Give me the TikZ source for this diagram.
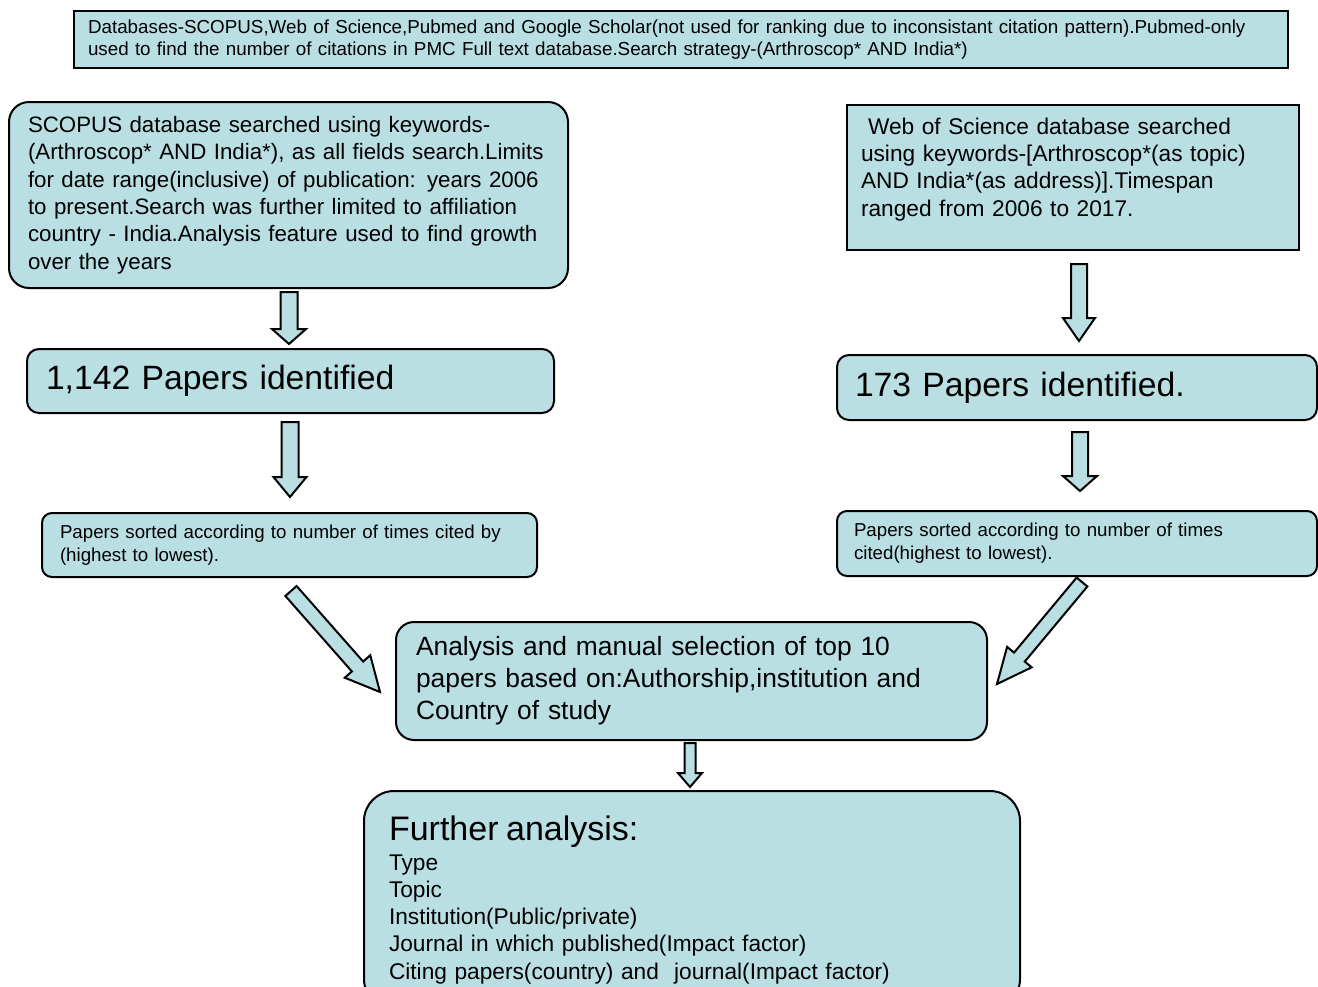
\documentclass[tikz,border=0pt]{standalone}
\usepackage{fontspec}
\setmainfont{Liberation Sans}
\usetikzlibrary{calc}
\definecolor{boxfill}{RGB}{186,223,227}
\newcommand\blockarrow[5]{% start, end, shaft half width, head half width, head length
  \coordinate (hb) at ($(#2)!#5!(#1)$);
  \draw[arr] ($(#1)!#3!90:(#2)$) -- ($(hb)!#3!-90:(#1)$) -- ($(hb)!#4!-90:(#1)$) -- (#2)
    -- ($(hb)!#4!90:(#1)$) -- ($(hb)!#3!90:(#1)$) -- ($(#1)!#3!-90:(#2)$) -- cycle;}
\begin{document}
\begin{tikzpicture}[x=1pt,y=-1pt,
  box/.style={draw=black, line width=2pt, fill=boxfill, anchor=north west,
    inner ysep=0pt, align=left},
  arr/.style={draw=black, line width=2pt, fill=boxfill, line join=miter}]
\clip (0,0) rectangle (1318,986);
\fill[white] (0,0) rectangle (1318,986);

\node[box, minimum height=57pt, text width=1186pt, inner xsep=14pt,
  font=\fontsize{18.8}{22}\selectfont] (db) at (73,10)
  {Databases-SCOPUS,Web of Science,Pubmed and Google Scholar(not used for ranking due to inconsistant citation pattern).Pubmed-only\\
   used to find the number of citations in PMC Full text database.Search strategy-(Arthroscop* AND India*)};

\node[box, rounded corners=20pt, minimum height=186pt, text width=521pt, inner xsep=19pt,
  font=\fontsize{22.3}{27.3}\selectfont] (scopus) at (8,101)
  {SCOPUS database searched using keywords-\\
   (Arthroscop* AND India*), as all fields search.Limits\\
   for date range(inclusive) of publication: years 2006\\
   to present.Search was further limited to affiliation\\
   country - India.Analysis feature used to find growth\\
   over the years};

\node[box, minimum height=145pt, text width=424pt, inner xsep=14pt,
  font=\fontsize{22.7}{27.3}\selectfont] (wos) at (846,104)
  {\hspace*{7pt}Web of Science database searched\\
   using keywords-[Arthroscop*(as topic)\\
   AND India*(as address)].Timespan\\
   ranged from 2006 to 2017.\\[-6pt]\mbox{}};

\node[box, rounded corners=12pt, minimum height=64pt, text width=489pt, inner xsep=19pt,
  font=\fontsize{33.7}{40}\selectfont] (p1142) at (26,348) {1,142 Papers identified};

\node[box, rounded corners=12pt, minimum height=65pt, text width=444pt, inner xsep=18pt,
  font=\fontsize{33.7}{40}\selectfont] (p173) at (836,354) {173 Papers identified.};

\node[box, rounded corners=10pt, minimum height=64pt, text width=459pt, inner xsep=18pt,
  font=\fontsize{18.7}{23}\selectfont] (sortl) at (41,512)
  {Papers sorted according to number of times cited by\\ (highest to lowest).};

\node[box, rounded corners=10pt, minimum height=65pt, text width=446pt, inner xsep=17pt,
  font=\fontsize{18.7}{23}\selectfont] (sortr) at (836,510)
  {Papers sorted according to number of times\\ cited(highest to lowest).};

\node[box, rounded corners=18pt, minimum height=118pt, text width=551pt, inner xsep=20pt,
  font=\fontsize{26.4}{32}\selectfont] (sel) at (395,621)
  {Analysis and manual selection of top 10\\
   papers based on:Authorship,institution and\\
   Country of study};

\node[box, rounded corners=30pt, minimum height=218pt, text width=606pt, inner xsep=25pt,
  font=\fontsize{22.7}{27.3}\selectfont] (further) at (363,790)
  {{\fontsize{34}{34}\selectfont Further analysis:}\\[2pt]
   Type\\
   Topic\\
   Institution(Public/private)\\
   Journal in which published(Impact factor)\\
   Citing papers(country) and\ \ journal(Impact factor)};

% arrow end points
\coordinate (a1s) at (289,292);  \coordinate (a1e) at (289,344);
\coordinate (a2s) at (290,422);  \coordinate (a2e) at (290,497);
\coordinate (b1s) at (1079,264); \coordinate (b1e) at (1079,341);
\coordinate (b2s) at (1080,432); \coordinate (b2e) at (1080,491);
\coordinate (dls) at (291,591);  \coordinate (dle) at (380,692);
\coordinate (drs) at (1082,582); \coordinate (dre) at (997,684);
\coordinate (cs)  at (690,743);  \coordinate (ce)  at (690,787);

\blockarrow{a1s}{a1e}{8.5pt}{17pt}{15pt}
\blockarrow{a2s}{a2e}{8.5pt}{16.5pt}{20pt}
\blockarrow{b1s}{b1e}{8pt}{16pt}{23pt}
\blockarrow{b2s}{b2e}{8pt}{17pt}{15pt}
\blockarrow{dls}{dle}{7.5pt}{17pt}{34pt}
\blockarrow{drs}{dre}{7pt}{16pt}{35pt}
\blockarrow{cs}{ce}{5.5pt}{12pt}{14pt}
\end{tikzpicture}
\end{document}
